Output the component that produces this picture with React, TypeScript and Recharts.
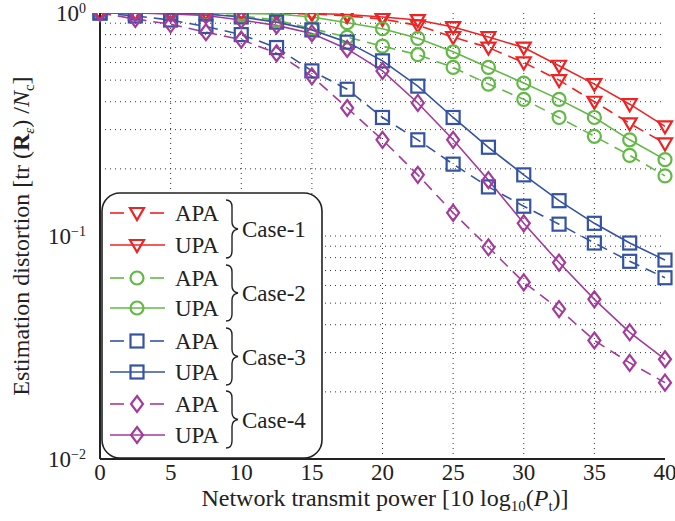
import React from 'react'
import { LineChart, Line, XAxis, YAxis, ReferenceLine } from 'recharts'

if (typeof document !== 'undefined') document.body.style.margin = '0'

const FONT = '"Liberation Serif", "DejaVu Serif", serif'

// x positions (transmit power, dB)
const power = [0, 2.5, 5, 7.5, 10, 12.5, 15, 17.5, 20, 22.5, 25, 27.5, 30, 32.5, 35, 37.5, 40]

// estimation distortion values
const case1Apa = [1, 1, 1, 1, 1, 0.995, 0.99, 0.97, 0.94, 0.88, 0.78, 0.7, 0.6, 0.5, 0.4, 0.32, 0.26]
const case1Upa = [1, 1, 1, 1, 1, 1, 0.995, 0.985, 0.96, 0.93, 0.865, 0.78, 0.7, 0.58, 0.48, 0.39, 0.31]
const case2Apa = [1, 1, 0.995, 0.99, 0.97, 0.93, 0.85, 0.78, 0.71, 0.65, 0.57, 0.48, 0.41, 0.34, 0.28, 0.23, 0.186]
const case2Upa = [1, 1, 1, 1, 0.995, 0.99, 0.96, 0.905, 0.85, 0.77, 0.67, 0.57, 0.485, 0.41, 0.34, 0.27, 0.22]
const case3Apa = [1, 0.97, 0.93, 0.87, 0.8, 0.7, 0.55, 0.455, 0.34, 0.27, 0.21, 0.166, 0.136, 0.113, 0.093, 0.077, 0.065]
const case3Upa = [1, 1, 0.995, 0.99, 0.96, 0.91, 0.84, 0.74, 0.61, 0.47, 0.34, 0.25, 0.188, 0.144, 0.114, 0.093, 0.078]
const case4Apa = [1, 0.94, 0.89, 0.82, 0.76, 0.66, 0.52, 0.375, 0.27, 0.188, 0.127, 0.089, 0.062, 0.047, 0.034, 0.027, 0.022]
const case4Upa = [1, 1, 0.99, 0.975, 0.93, 0.88, 0.81, 0.69, 0.55, 0.395, 0.27, 0.178, 0.114, 0.076, 0.052, 0.037, 0.028]

const xTicks = [0, 5, 10, 15, 20, 25, 30, 35, 40]
const yTicks = [0.01, 0.1, 1]
const yGrid = [0.02, 0.03, 0.04, 0.05, 0.06, 0.07, 0.08, 0.09, 0.1, 0.2, 0.3, 0.4, 0.5, 0.6, 0.7, 0.8, 0.9]
const xGrid = [5, 10, 15, 20, 25, 30, 35]

const RED = '#ee2424'
const GREEN = '#62b946'
const BLUE = '#3453a4'
const MAGENTA = '#a23b9c'

type Shape = 'tri' | 'circle' | 'square' | 'diamond'

const series = [
  { key: 'c1a', values: case1Apa, color: RED, dashed: true, shape: 'tri' as Shape },
  { key: 'c1u', values: case1Upa, color: RED, dashed: false, shape: 'tri' as Shape },
  { key: 'c2a', values: case2Apa, color: GREEN, dashed: true, shape: 'circle' as Shape },
  { key: 'c2u', values: case2Upa, color: GREEN, dashed: false, shape: 'circle' as Shape },
  { key: 'c3a', values: case3Apa, color: BLUE, dashed: true, shape: 'square' as Shape },
  { key: 'c3u', values: case3Upa, color: BLUE, dashed: false, shape: 'square' as Shape },
  { key: 'c4a', values: case4Apa, color: MAGENTA, dashed: true, shape: 'diamond' as Shape },
  { key: 'c4u', values: case4Upa, color: MAGENTA, dashed: false, shape: 'diamond' as Shape },
]

const data = power.map((p, i) => {
  const row: Record<string, number> = { p }
  series.forEach((s) => (row[s.key] = s.values[i]))
  return row
})

const DASH = '11 7'

function Marker({ shape, cx, cy, color }: { shape: Shape; cx: number; cy: number; color: string }) {
  const common = { fill: 'none', stroke: color, strokeWidth: 2.2 }
  if (shape === 'tri')
    return <polygon points={`${cx - 7},${cy - 5} ${cx + 7},${cy - 5} ${cx},${cy + 7}`} {...common} />
  if (shape === 'circle') return <circle cx={cx} cy={cy} r={6.5} {...common} />
  if (shape === 'square') return <rect x={cx - 6.5} y={cy - 6.5} width={13} height={13} {...common} />
  return <polygon points={`${cx},${cy - 8} ${cx + 6},${cy} ${cx},${cy + 8} ${cx - 6},${cy}`} {...common} />
}

const makeDot = (shape: Shape, color: string) => (props: any) => {
  const { cx, cy, index } = props
  if (cx == null || cy == null) return <g key={index} />
  return (
    <g key={index}>
      <Marker shape={shape} cx={cx} cy={cy} color={color} />
    </g>
  )
}

const YTick = ({ x, y, payload }: any) => {
  const exp = Math.round(Math.log10(payload.value))
  return (
    <text x={x - 6} y={y + 8} textAnchor="end" fontFamily={FONT} fontSize={23} fill="#222">
      10
      <tspan dy={-8} fontSize={14}>
        {exp === 0 ? '0' : '\u2212' + Math.abs(exp)}
      </tspan>
    </text>
  )
}

const XTick = ({ x, y, payload }: any) => (
  <text x={x} y={y + 13} textAnchor="middle" fontFamily={FONT} fontSize={23} fill="#222">
    {payload.value}
  </text>
)

const XLabel = () => (
  <text x={385} y={506} textAnchor="middle" fontFamily={FONT} fontSize={24} fill="#222">
    Network transmit power [10 log
    <tspan dy={5} fontSize={15}>10</tspan>
    <tspan dy={-5}>(</tspan>
    <tspan fontStyle="italic">P</tspan>
    <tspan dy={5} fontSize={15}>t</tspan>
    <tspan dy={-5}>)]</tspan>
  </text>
)

const YLabel = () => (
  <text
    x={0}
    y={0}
    transform="translate(29,236) rotate(-90)"
    textAnchor="middle"
    fontFamily={FONT}
    fontSize={24}
    fill="#222"
  >
    Estimation distortion [tr (
    <tspan fontWeight="bold">R</tspan>
    <tspan dy={5} fontSize={15} fontStyle="italic">ε</tspan>
    <tspan dy={-5}>) /</tspan>
    <tspan fontStyle="italic">N</tspan>
    <tspan dy={5} fontSize={15}>c</tspan>
    <tspan dy={-5}>]</tspan>
  </text>
)

const legendCases = [
  { label: 'Case-1', color: RED, shape: 'tri' as Shape },
  { label: 'Case-2', color: GREEN, shape: 'circle' as Shape },
  { label: 'Case-3', color: BLUE, shape: 'square' as Shape },
  { label: 'Case-4', color: MAGENTA, shape: 'diamond' as Shape },
]

function Brace({ x, y1, y2 }: { x: number; y1: number; y2: number }) {
  const m = (y1 + y2) / 2
  const d = `M${x},${y1} q6,0 6,7 V${m - 7} q0,6 6,7 q-6,1 -6,7 V${y2 - 7} q0,7 -6,7`
  return <path d={d} fill="none" stroke="#222" strokeWidth={1.4} />
}

function LegendBox() {
  const rows = [213, 245, 278, 308, 341, 372, 404, 435]
  return (
    <svg width={675} height={521} style={{ position: 'absolute', left: 0, top: 0, pointerEvents: 'none' }}>
      <rect x={102} y={193} width={220} height={265} rx={18} fill="#fff" stroke="#222" strokeWidth={1.6} />
      {legendCases.map((c, i) => {
        const ya = rows[i * 2]
        const yu = rows[i * 2 + 1]
        return (
          <g key={c.label}>
            <line x1={110} x2={124} y1={ya} y2={ya} stroke={c.color} strokeWidth={1.6} />
            <line x1={150} x2={164} y1={ya} y2={ya} stroke={c.color} strokeWidth={1.6} />
            <Marker shape={c.shape} cx={137} cy={ya} color={c.color} />
            <line x1={110} x2={165} y1={yu} y2={yu} stroke={c.color} strokeWidth={1.6} />
            <Marker shape={c.shape} cx={137} cy={yu} color={c.color} />
            <text x={175} y={ya + 8} fontFamily={FONT} fontSize={23} fill="#222">APA</text>
            <text x={175} y={yu + 8} fontFamily={FONT} fontSize={23} fill="#222">UPA</text>
            <Brace x={226} y1={ya - 13} y2={yu + 13} />
            <text x={242} y={(ya + yu) / 2 + 8} fontFamily={FONT} fontSize={23} fill="#222">{c.label}</text>
          </g>
        )
      })}
    </svg>
  )
}

export default function App() {
  return (
    <div style={{ position: 'relative', width: 675, height: 521, background: '#fff' }}>
      <LineChart width={675} height={521} data={data} margin={{ top: 13, right: 10, left: 0, bottom: 0 }}>
        {yGrid.map((v) => (
          <ReferenceLine key={'y' + v} y={v} stroke="#333" strokeDasharray="1 4" strokeWidth={1} />
        ))}
        {xGrid.map((v) => (
          <ReferenceLine key={'x' + v} x={v} stroke="#333" strokeDasharray="1 4" strokeWidth={1} />
        ))}
        <XAxis
          dataKey="p"
          type="number"
          domain={[0, 40]}
          ticks={xTicks}
          height={62}
          tick={<XTick />}
          tickLine={false}
          axisLine={{ stroke: '#222', strokeWidth: 2 }}
          label={<XLabel />}
        />
        <XAxis
          xAxisId="top"
          orientation="top"
          dataKey="p"
          type="number"
          domain={[0, 40]}
          height={0}
          tick={false}
          tickLine={false}
          axisLine={{ stroke: '#222', strokeWidth: 2.4 }}
        />
        <YAxis
          scale="log"
          domain={[0.01, 1]}
          ticks={yTicks}
          allowDataOverflow
          width={100}
          tick={<YTick />}
          tickLine={false}
          axisLine={{ stroke: '#222', strokeWidth: 2 }}
          label={<YLabel />}
        />
        <YAxis
          yAxisId="right"
          orientation="right"
          scale="log"
          domain={[0.01, 1]}
          allowDataOverflow
          width={0}
          tick={false}
          tickLine={false}
          axisLine={{ stroke: '#222', strokeWidth: 2.4 }}
        />
        {series.map((s) => (
          <Line
            key={s.key}
            dataKey={s.key}
            type="linear"
            stroke={s.color}
            strokeWidth={1.6}
            strokeDasharray={s.dashed ? DASH : undefined}
            dot={makeDot(s.shape, s.color)}
            activeDot={false}
            isAnimationActive={false}
          />
        ))}
      </LineChart>
      <LegendBox />
    </div>
  )
}
